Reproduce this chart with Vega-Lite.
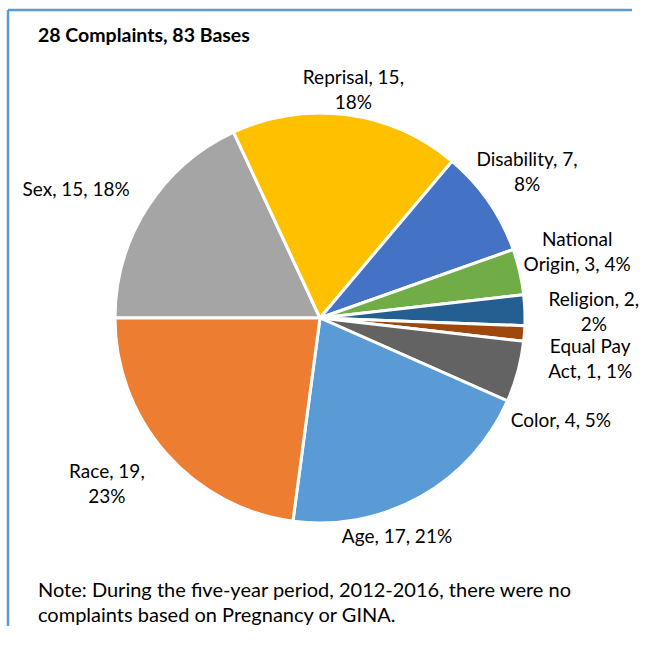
{
  "$schema": "https://vega.github.io/schema/vega-lite/v6.json",
  "width": 624,
  "height": 616,
  "autosize": {"type": "none"},
  "padding": {"left": 8, "top": 10, "right": 29, "bottom": 26},
  "background": "white",
  "config": {
    "view": {"stroke": null},
    "font": "Lato"
  },
  "title": {
    "text": "28 Complaints, 83 Bases",
    "subtitle": ["Note: During the five-year period, 2012-2016, there were no", "complaints based on Pregnancy or GINA."],
    "anchor": "start",
    "frame": "group",
    "orient": "top",
    "offset": -618,
    "dx": 30,
    "font": "Lato",
    "fontSize": 19.5,
    "fontWeight": "bold",
    "color": "black",
    "subtitleFont": "Lato",
    "subtitleFontSize": 20,
    "subtitleColor": "black",
    "subtitlePadding": 534.5,
    "subtitleLineHeight": 25
  },
  "data": {
    "values": [
      {"basis": "Sex", "count": 15, "idx": 1, "label": "Sex, 15, 18%"},
      {"basis": "Reprisal", "count": 15, "idx": 2, "label": "Reprisal, 15,\n18%"},
      {"basis": "Disability", "count": 7, "idx": 3, "label": "Disability, 7,\n8%"},
      {"basis": "National Origin", "count": 3, "idx": 4, "label": "National\nOrigin, 3, 4%"},
      {"basis": "Religion", "count": 2, "idx": 5, "label": "Religion, 2,\n2%"},
      {"basis": "Equal Pay Act", "count": 1, "idx": 6, "label": "Equal Pay\nAct, 1, 1%"},
      {"basis": "Color", "count": 4, "idx": 7, "label": "Color, 4, 5%"},
      {"basis": "Age", "count": 17, "idx": 8, "label": "Age, 17, 21%"},
      {"basis": "Race", "count": 19, "idx": 9, "label": "Race, 19,\n23%"}
    ]
  },
  "layer": [
    {
      "data": {"values": [{"frame": 1}]},
      "mark": {"type": "rect", "fill": null, "stroke": "#5B9BD5", "strokeWidth": 2.5, "strokeDash": [624, 1240, 616, 0]},
      "encoding": {}
    },
    {
      "mark": {"type": "arc", "outerRadius": 205, "stroke": "white", "strokeWidth": 3},
      "encoding": {
        "theta": {"field": "count", "type": "quantitative", "stack": true, "scale": {"range": [-1.5708, 4.7124]}},
        "order": {"field": "idx", "type": "quantitative"},
        "color": {
          "field": "basis", "type": "nominal", "legend": null,
          "scale": {
            "domain": ["Sex", "Reprisal", "Disability", "National Origin", "Religion", "Equal Pay Act", "Color", "Age", "Race"],
            "range": ["#A5A5A5", "#FFC000", "#4472C4", "#70AD47", "#255E91", "#9E480E", "#636363", "#5B9BD5", "#ED7D31"]
          }
        }
      }
    },
    {
      "mark": {"type": "text", "radius": 275, "dx": -12, "dy": 20, "fontSize": 19, "font": "Lato", "color": "black", "lineBreak": "\n", "lineHeight": 25, "baseline": "middle", "align": "center"},
      "encoding": {
        "theta": {"field": "count", "type": "quantitative", "stack": true},
        "order": {"field": "idx", "type": "quantitative"},
        "text": {"condition": {"test": "datum.basis === 'Sex'", "field": "label"}, "value": ""}
      }
    },
    {
      "mark": {"type": "text", "radius": 230, "dx": 3, "dy": -12.5, "fontSize": 19, "font": "Lato", "color": "black", "lineBreak": "\n", "lineHeight": 25, "baseline": "middle", "align": "center"},
      "encoding": {
        "theta": {"field": "count", "type": "quantitative", "stack": true},
        "order": {"field": "idx", "type": "quantitative"},
        "text": {"condition": {"test": "datum.basis === 'Reprisal'", "field": "label"}, "value": ""}
      }
    },
    {
      "mark": {"type": "text", "radius": 253, "dx": -1, "dy": -13.5, "fontSize": 19, "font": "Lato", "color": "black", "lineBreak": "\n", "lineHeight": 25, "baseline": "middle", "align": "center"},
      "encoding": {
        "theta": {"field": "count", "type": "quantitative", "stack": true},
        "order": {"field": "idx", "type": "quantitative"},
        "text": {"condition": {"test": "datum.basis === 'Disability'", "field": "label"}, "value": ""}
      }
    },
    {
      "mark": {"type": "text", "radius": 265, "dx": -1, "dy": -18.5, "fontSize": 19, "font": "Lato", "color": "black", "lineBreak": "\n", "lineHeight": 25, "baseline": "middle", "align": "center"},
      "encoding": {
        "theta": {"field": "count", "type": "quantitative", "stack": true},
        "order": {"field": "idx", "type": "quantitative"},
        "text": {"condition": {"test": "datum.basis === 'National Origin'", "field": "label"}, "value": ""}
      }
    },
    {
      "mark": {"type": "text", "radius": 274, "dx": 0, "dy": -7.5, "fontSize": 19, "font": "Lato", "color": "black", "lineBreak": "\n", "lineHeight": 25, "baseline": "middle", "align": "center"},
      "encoding": {
        "theta": {"field": "count", "type": "quantitative", "stack": true},
        "order": {"field": "idx", "type": "quantitative"},
        "text": {"condition": {"test": "datum.basis === 'Religion'", "field": "label"}, "value": ""}
      }
    },
    {
      "mark": {"type": "text", "radius": 272, "dx": -1, "dy": 8, "fontSize": 19, "font": "Lato", "color": "black", "lineBreak": "\n", "lineHeight": 25, "baseline": "middle", "align": "center"},
      "encoding": {
        "theta": {"field": "count", "type": "quantitative", "stack": true},
        "order": {"field": "idx", "type": "quantitative"},
        "text": {"condition": {"test": "datum.basis === 'Equal Pay Act'", "field": "label"}, "value": ""}
      }
    },
    {
      "mark": {"type": "text", "radius": 260, "dx": -10, "dy": 35, "fontSize": 19, "font": "Lato", "color": "black", "lineBreak": "\n", "lineHeight": 25, "baseline": "middle", "align": "center"},
      "encoding": {
        "theta": {"field": "count", "type": "quantitative", "stack": true},
        "order": {"field": "idx", "type": "quantitative"},
        "text": {"condition": {"test": "datum.basis === 'Color'", "field": "label"}, "value": ""}
      }
    },
    {
      "mark": {"type": "text", "radius": 229, "dx": -35, "dy": 19, "fontSize": 19, "font": "Lato", "color": "black", "lineBreak": "\n", "lineHeight": 25, "baseline": "middle", "align": "center"},
      "encoding": {
        "theta": {"field": "count", "type": "quantitative", "stack": true},
        "order": {"field": "idx", "type": "quantitative"},
        "text": {"condition": {"test": "datum.basis === 'Age'", "field": "label"}, "value": ""}
      }
    },
    {
      "mark": {"type": "text", "radius": 270, "dx": -10, "dy": -23.5, "fontSize": 19, "font": "Lato", "color": "black", "lineBreak": "\n", "lineHeight": 25, "baseline": "middle", "align": "center"},
      "encoding": {
        "theta": {"field": "count", "type": "quantitative", "stack": true},
        "order": {"field": "idx", "type": "quantitative"},
        "text": {"condition": {"test": "datum.basis === 'Race'", "field": "label"}, "value": ""}
      }
    }
  ]
}
